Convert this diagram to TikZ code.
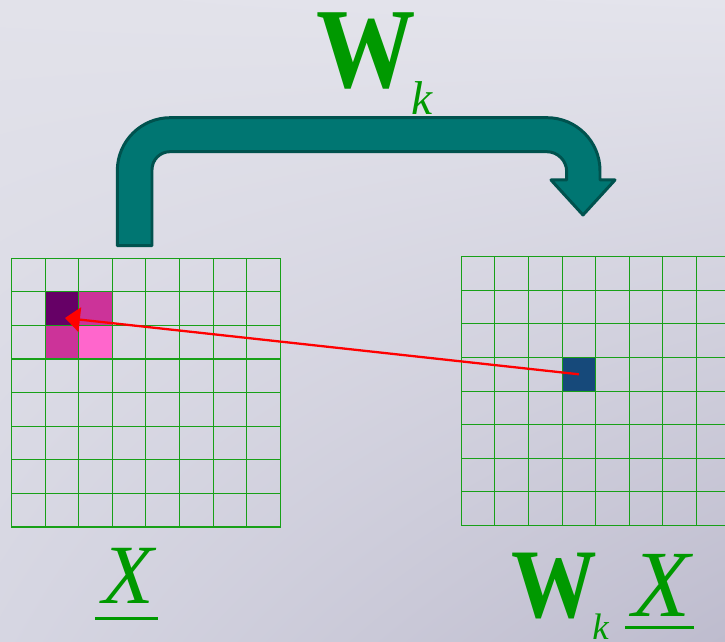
\documentclass[tikz,border=0pt]{standalone}
\usepackage{fontspec}
\setmainfont{Liberation Serif}
\usetikzlibrary{arrows.meta,calc,shadings}
\definecolor{eqgreen}{RGB}{0,153,0}
\definecolor{gridgreen}{RGB}{24,160,24}
\definecolor{bendfill}{RGB}{0,118,114}
\definecolor{benddraw}{RGB}{0,82,78}
\definecolor{pixdark}{RGB}{102,0,102}
\definecolor{pixmid}{RGB}{204,51,153}
\definecolor{pixlight}{RGB}{255,102,204}
\definecolor{pixout}{RGB}{22,73,122}
\definecolor{bgA}{RGB}{226,226,234}
\definecolor{bgB}{RGB}{228,228,236}
\definecolor{bgC}{RGB}{214,214,226}
\definecolor{bgD}{RGB}{190,188,206}
\tikzset{
  gridln/.style={draw=gridgreen,line width=0.6pt,line cap=rect},
  pix/.style={rectangle,minimum size=0.672cm,inner sep=0pt,outer sep=0pt},
  map/.style={-{Triangle[length=8.5pt,width=14pt]},draw=red,line width=1.3pt},
  bentarrow/.style={fill=bendfill,draw=benddraw,line width=1.7pt,line join=round},
  lbl/.style={text=eqgreen,inner sep=0pt,anchor=base west},
  uline/.style={draw=eqgreen,line width=1.7pt},
}

\begin{document}
\begin{tikzpicture}[x=0.02cm,y=0.02cm]
  % background
  \shade[upper left=bgA,upper right=bgB,lower left=bgC,lower right=bgD] (0,0) rectangle (725,642);
  \useasboundingbox (0,0) rectangle (725,642);
  % input pixels
  \node[pix,fill=pixdark] (xa) at (61.9,333.4) {};
  \node[pix,fill=pixmid] (xb) at (95.5,333.4) {};
  \node[pix,fill=pixmid] (xc) at (61.9,299.8) {};
  \node[pix,fill=pixlight] (xd) at (95.5,299.8) {};
  % output pixel
  \node[pix,fill=pixout] (yo) at (578.9,267.7) {};
  % grids
  \foreach \i in {0,...,8}{
    \draw[gridln] ({11.5+33.6*\i},115) -- ++(0,268.8);
    \draw[gridln] (11.5,{115+33.6*\i}) -- ++(268.8,0);
    \draw[gridln] ({461.3+33.6*\i},116.5) -- ++(0,268.8);
    \draw[gridln] (461.3,{116.5+33.6*\i}) -- ++(268.8,0);
  }
  % mapping arrow
  \coordinate (xt) at (65,324);
  \draw[map] (yo.center) -- (xt);
  % bent arrow
  \draw[bentarrow] (117.3,396.3) -- (117.3,471.3) arc[start angle=180,end angle=90,radius=53]
    -- (547,524.3) arc[start angle=90,end angle=0,radius=53]
    -- (600,462) -- (615,462) -- (583,427) -- (551,462) -- (566.7,462) -- (566.7,470.3)
    arc[start angle=0,end angle=90,radius=20] -- (170,490.3)
    arc[start angle=90,end angle=180,radius=18] -- (152,396.3) -- cycle;
  % labels
  \node[lbl,font=\fontsize{65}{70}\selectfont\bfseries] (wt) at (316,554) {\scalebox{0.87}[1]{W}};
  \node[lbl,font=\fontsize{27}{30}\selectfont\itshape] (kt) at (411,527) {k};
  \node[lbl,font=\fontsize{48}{50}\selectfont\itshape] (xl) at (102,38) {X};
  \draw[uline] (95,23) -- (158,23);
  \node[lbl,font=\fontsize{56}{60}\selectfont\bfseries] (wb) at (511,24) {\scalebox{0.87}[1]{W}};
  \node[lbl,font=\fontsize{21}{24}\selectfont\itshape] (kb) at (592,2) {k};
  \node[lbl,font=\fontsize{54}{58}\selectfont\itshape] (xr) at (632,25) {X};
  \draw[uline] (625,14) -- (694,14);
\end{tikzpicture}
\end{document}
